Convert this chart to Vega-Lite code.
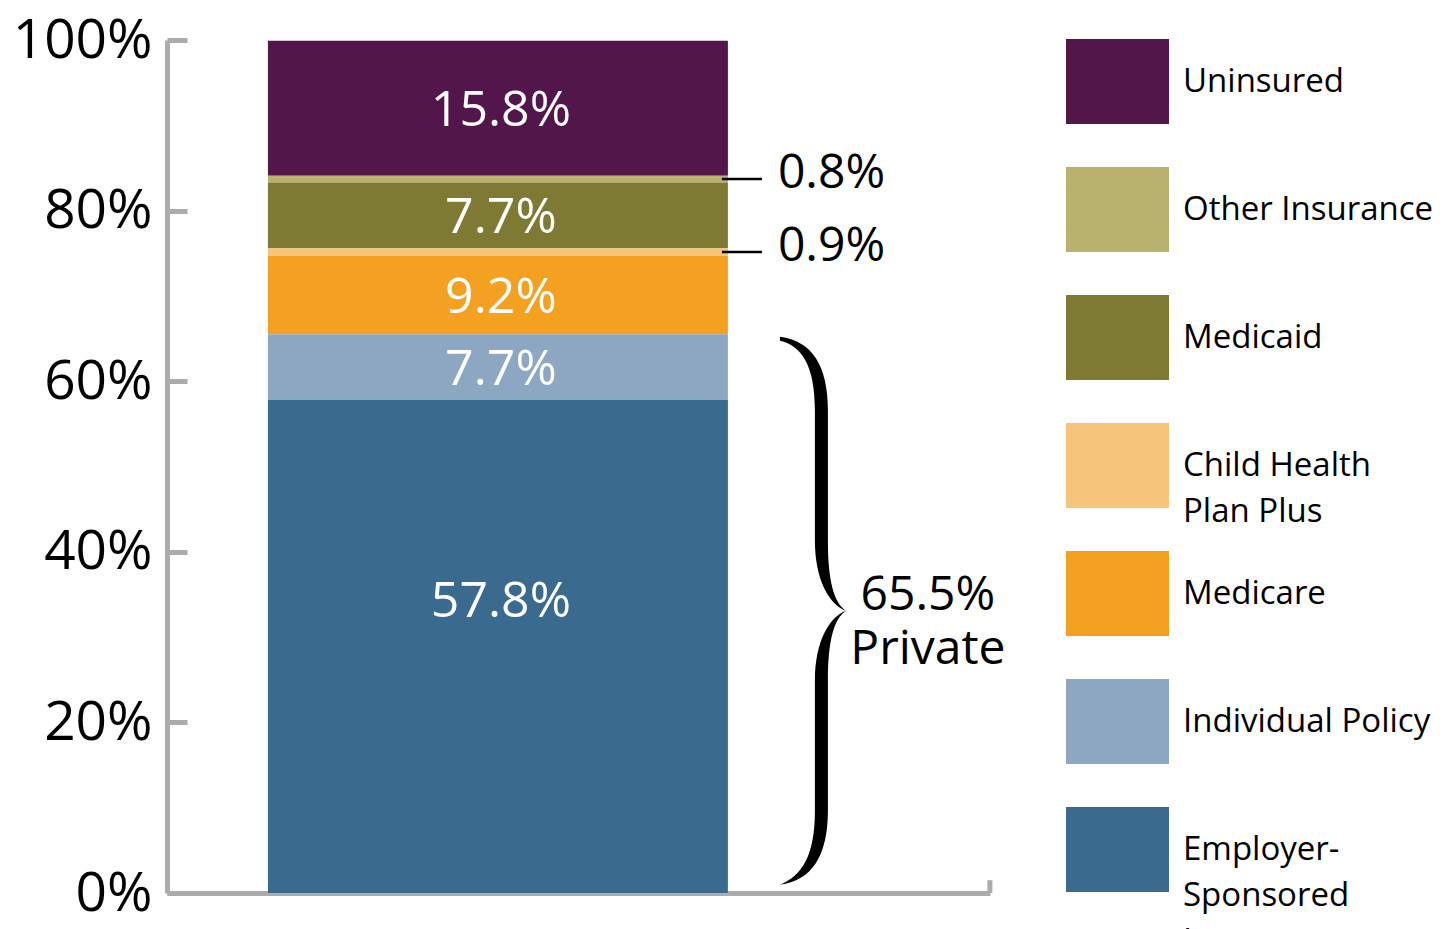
{
  "$schema": "https://vega.github.io/schema/vega-lite/v6.json",
  "width": 823,
  "height": 853,
  "autosize": {"type": "none"},
  "padding": {"left": 167, "top": 40, "right": 461, "bottom": 36},
  "background": "white",
  "config": {
    "view": {"stroke": null},
    "font": "Open Sans",
    "style": {"guide-label": {"lineHeight": 46}},
    "axisY": {
      "domainColor": "#ababab",
      "domainWidth": 5,
      "tickColor": "#ababab",
      "tickWidth": 5,
      "tickSize": -20,
      "labelFontSize": 55,
      "labelFont": "Open Sans",
      "labelColor": "#000000",
      "labelPadding": 35,
      "grid": false
    }
  },
  "datasets": {
    "coverage": [
      {"group": "Colorado", "cat": "Uninsured", "value": 15.8, "rank": 1},
      {"group": "Colorado", "cat": "Other Insurance", "value": 0.8, "rank": 2},
      {"group": "Colorado", "cat": "Medicaid", "value": 7.7, "rank": 3},
      {"group": "Colorado", "cat": "Child Health Plan Plus", "value": 0.9, "rank": 4},
      {"group": "Colorado", "cat": "Medicare", "value": 9.2, "rank": 5},
      {"group": "Colorado", "cat": "Individual Policy", "value": 7.7, "rank": 6},
      {"group": "Colorado", "cat": "Employer-Sponsored Insurance", "value": 57.8, "rank": 7}
    ],
    "private": [{"group": "Colorado", "share": 65.5, "label": "Private"}]
  },
  "encoding": {
    "x": {
      "field": "group",
      "type": "nominal",
      "scale": {"paddingInner": 0, "paddingOuter": 0.3946, "align": 0.278},
      "axis": {"ticks": false, "labels": false, "title": null, "domainColor": "#ababab", "domainWidth": 5}
    }
  },
  "layer": [
    {
      "data": {"name": "coverage"},
      "transform": [
        {"stack": "value", "groupby": ["group"], "sort": [{"field": "rank", "order": "descending"}], "as": ["v0", "v1"]}
      ],
      "mark": {"type": "bar"},
      "encoding": {
        "y": {"field": "v0", "type": "quantitative", "scale": {"domain": [0, 100], "nice": false}, "axis": {"values": [0, 20, 40, 60, 80, 100], "labelExpr": "datum.value + '%'", "title": null}},
        "y2": {"field": "v1"},
        "color": {
          "field": "cat",
          "type": "nominal",
          "scale": {
            "domain": ["Uninsured", "Other Insurance", "Medicaid", "Child Health Plan Plus", "Medicare", "Individual Policy", "Employer-Sponsored Insurance"],
            "range": ["#53164b", "#b8b26e", "#7f7a33", "#f6c47a", "#f4a020", "#8da7c2", "#3a6b8e"]
          },
          "legend": {
            "orient": "none",
            "legendX": 899,
            "legendY": -22.5,
            "title": null,
            "symbolType": "M-1,-1H1.4236V1H-1Z",
            "symbolSize": 7225,
            "symbolStrokeWidth": 0,
            "labelFontSize": 33,
            "labelFont": "Open Sans",
            "labelColor": "#000000",
            "labelOffset": 32,
            "rowPadding": 0,
            "clipHeight": 128,
            "labelLimit": 500,
            "labelExpr": "datum.label == 'Child Health Plan Plus' ? ['Child Health', 'Plan Plus'] : datum.label == 'Employer-Sponsored Insurance' ? ['Employer-', 'Sponsored', 'Insurance'] : datum.label"
          }
        }
      }
    },
    {
      "data": {"name": "private"},
      "mark": {"type": "rule", "color": "#ababab", "strokeWidth": 5, "xOffset": 492},
      "encoding": {
        "y": {"datum": 0, "type": "quantitative", "scale": {"domain": [0, 100], "nice": false}, "axis": {"values": [0, 20, 40, 60, 80, 100], "labelExpr": "datum.value + '%'", "title": null}},
        "y2": {"datum": 1.5}
      }
    },
    {
      "data": {"name": "coverage"},
      "transform": [
        {"stack": "value", "groupby": ["group"], "sort": [{"field": "rank", "order": "descending"}], "as": ["v0", "v1"]},
        {"calculate": "(datum.v0 + datum.v1) / 2", "as": "mid"},
        {"calculate": "format(datum.value, '.1f') + '%'", "as": "txt"},
        {"filter": "datum.value > 5 && datum.rank != 7"}
      ],
      "mark": {"type": "text", "fontSize": 50, "color": "#ffffff", "align": "center", "baseline": "middle", "dy": 3, "xOffset": 3, "font": "Open Sans"},
      "encoding": {
        "y": {"field": "mid", "type": "quantitative", "scale": {"domain": [0, 100], "nice": false}, "axis": {"values": [0, 20, 40, 60, 80, 100], "labelExpr": "datum.value + '%'", "title": null}},
        "text": {"field": "txt"}
      }
    },
    {
      "data": {"name": "coverage"},
      "transform": [
        {"stack": "value", "groupby": ["group"], "sort": [{"field": "rank", "order": "descending"}], "as": ["v0", "v1"]},
        {"calculate": "(datum.v0 + datum.v1) / 2", "as": "mid"},
        {"calculate": "format(datum.value, '.1f') + '%'", "as": "txt"},
        {"filter": "datum.rank == 7"}
      ],
      "mark": {"type": "text", "fontSize": 50, "color": "#ffffff", "align": "center", "baseline": "middle", "dy": -44, "xOffset": 3, "font": "Open Sans"},
      "encoding": {
        "y": {"field": "mid", "type": "quantitative", "scale": {"domain": [0, 100], "nice": false}, "axis": {"values": [0, 20, 40, 60, 80, 100], "labelExpr": "datum.value + '%'", "title": null}},
        "text": {"field": "txt"}
      }
    },
    {
      "data": {"name": "coverage"},
      "transform": [
        {"stack": "value", "groupby": ["group"], "sort": [{"field": "rank", "order": "descending"}], "as": ["v0", "v1"]},
        {"calculate": "(datum.v0 + datum.v1) / 2", "as": "mid"},
        {"calculate": "format(datum.value, '.1f') + '%'", "as": "txt"},
        {"filter": "datum.value < 5"}
      ],
      "mark": {"type": "text", "fontSize": 48, "color": "#000000", "align": "left", "baseline": "middle", "xOffset": 280, "dy": -5, "font": "Open Sans"},
      "encoding": {
        "y": {"field": "mid", "type": "quantitative", "scale": {"domain": [0, 100], "nice": false}, "axis": {"values": [0, 20, 40, 60, 80, 100], "labelExpr": "datum.value + '%'", "title": null}},
        "text": {"field": "txt"}
      }
    },
    {
      "data": {"name": "coverage"},
      "transform": [
        {"stack": "value", "groupby": ["group"], "sort": [{"field": "rank", "order": "descending"}], "as": ["v0", "v1"]},
        {"calculate": "(datum.v0 + datum.v1) / 2", "as": "mid"},
        {"filter": "datum.value < 5"}
      ],
      "mark": {"type": "tick", "color": "#000000", "size": 40, "thickness": 2.5, "xOffset": 244, "opacity": 1},
      "encoding": {
        "y": {"field": "mid", "type": "quantitative", "scale": {"domain": [0, 100], "nice": false}, "axis": {"values": [0, 20, 40, 60, 80, 100], "labelExpr": "datum.value + '%'", "title": null}}
      }
    },
    {
      "data": {"name": "private"},
      "transform": [{"calculate": "datum.share / 2", "as": "mid"}],
      "mark": {
        "type": "point",
        "shape": "M-0.073,-1C0.0438,-0.9854,0.1022,-0.8942,0.1022,-0.7299L0.1022,-0.2555C0.1022,-0.1095,0.1241,-0.0292,0.1679,0C0.1095,-0.0219,0.0547,-0.1095,0.0547,-0.2555L0.0547,-0.7299C0.0547,-0.8942,0.0073,-0.9672,-0.073,-0.9854ZM0.1679,0C0.1241,0.0292,0.1022,0.1095,0.1022,0.2555L0.1022,0.7299C0.1022,0.8942,0.0438,0.9854,-0.073,1C0.0073,0.9672,0.0547,0.8942,0.0547,0.7299L0.0547,0.2555C0.0547,0.1095,0.1095,0.0219,0.1679,0Z",
        "size": 300304,
        "filled": true,
        "color": "#000000",
        "opacity": 1,
        "strokeWidth": 0,
        "xOffset": 302,
        "yOffset": -3
      },
      "encoding": {
        "y": {"field": "mid", "type": "quantitative", "scale": {"domain": [0, 100], "nice": false}, "axis": {"values": [0, 20, 40, 60, 80, 100], "labelExpr": "datum.value + '%'", "title": null}}
      }
    },
    {
      "data": {"name": "private"},
      "transform": [
        {"calculate": "datum.share / 2", "as": "mid"},
        {"calculate": "format(datum.share, '.1f') + '%\\n' + datum.label", "as": "txt"}
      ],
      "mark": {"type": "text", "fontSize": 48, "lineHeight": 54, "lineBreak": "\n", "color": "#000000", "align": "center", "baseline": "middle", "xOffset": 430, "dy": -18, "font": "Open Sans"},
      "encoding": {
        "y": {"field": "mid", "type": "quantitative", "scale": {"domain": [0, 100], "nice": false}, "axis": {"values": [0, 20, 40, 60, 80, 100], "labelExpr": "datum.value + '%'", "title": null}},
        "text": {"field": "txt"}
      }
    }
  ]
}
